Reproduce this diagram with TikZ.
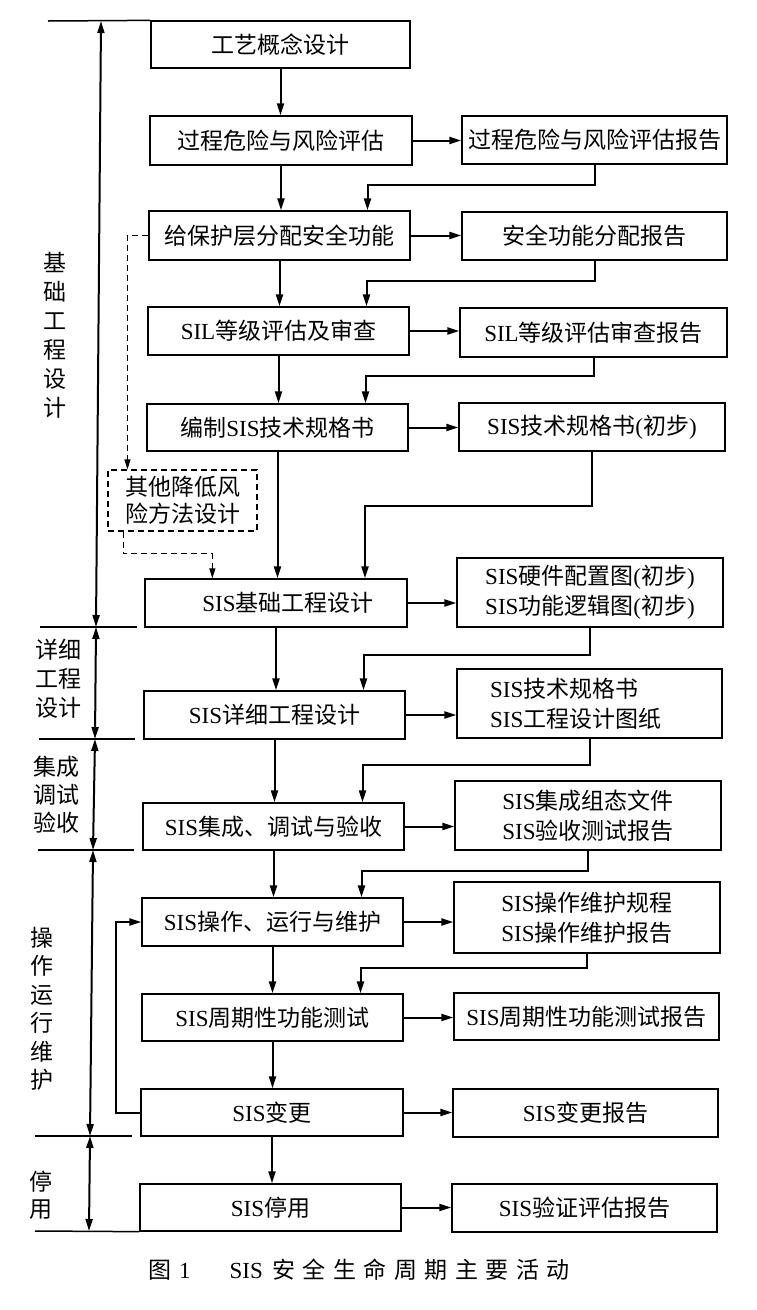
\documentclass[tikz,border=0pt]{standalone}
\usepackage{fontspec}
\setmainfont{Liberation Serif}
\newfontfamily\zhfont{Noto Sans CJK SC}
\newcommand\zt[1]{{\zhfont #1}}
\usetikzlibrary{arrows.meta}
% a box given by its left, top, right and bottom edges
\newcommand\placebox[6]{\node[box, minimum width={#4-#2}, minimum height={#5-#3}] (#1) at ({(#2+#4)/2},{(#3+#5)/2}) {#6};}
\newcommand\capgap{\hspace{7.5pt}}
\begin{document}
\begin{tikzpicture}[x=1pt,y=-1pt,
  box/.style={draw, line width=1.3pt, inner sep=0pt, align=center, font=\fontsize{23}{30}\selectfont},
  flow/.style={line width=2pt, -{Triangle[length=12pt,width=7pt]}},
  span/.style={line width=2pt, {Triangle[length=12pt,width=7pt]}-{Triangle[length=12pt,width=7pt]}},
  rule/.style={line width=1.5pt},
  dsh/.style={line width=1.1pt, dash pattern=on 6pt off 4pt, -{Triangle[length=10pt,width=6pt]}},
  phase/.style={align=center, inner sep=0pt},
]
\fill[white] (0,0) rectangle (756,1310);
\useasboundingbox (0,0) rectangle (756,1310);

% main activities
\placebox{b1}{151}{21}{410}{68}{\zt{工艺概念设计}}
\placebox{b2}{150}{116}{412}{165}{\zt{过程危险与风险评估}}
\placebox{b3}{149}{211}{410}{260}{\zt{给保护层分配安全功能}}
\placebox{b4}{148}{307}{409}{355}{SIL\zt{等级评估及审查}}
\placebox{b5}{147}{404}{408}{451}{\zt{编制}SIS\zt{技术规格书}}
\placebox{b6}{145}{579}{407}{627}{\hspace*{24pt}SIS\zt{基础工程设计}}
\placebox{b7}{144}{691}{405}{739}{SIS\zt{详细工程设计}}
\placebox{b8}{143}{803}{404}{850}{SIS\zt{集成、调试与验收}}
\placebox{b9}{142}{898}{403}{946}{SIS\zt{操作、运行与维护}}
\placebox{b10}{142}{994}{403}{1041}{SIS\zt{周期性功能测试}}
\placebox{b11}{141}{1089}{403}{1136}{SIS\zt{变更}}
\placebox{b12}{140}{1184}{401}{1231}{SIS\zt{停用}}

% resulting documents
\placebox{r2}{462}{116}{727}{164}{\zt{过程危险与风险评估报告}}
\placebox{r3}{462}{212}{727}{260}{\zt{安全功能分配报告}}
\placebox{r4}{460}{308}{727}{357}{SIL\zt{等级评估审查报告}}
\placebox{r5}{459}{403}{725}{451}{SIS\zt{技术规格书}(\zt{初步})}
\placebox{r6}{457}{558}{723}{627}{SIS\zt{硬件配置图}(\zt{初步})\\SIS\zt{功能逻辑图}(\zt{初步})}
\placebox{r7}{457}{669}{722}{738}{}
\node[anchor=west, align=left, inner sep=0pt, font=\fontsize{23}{30}\selectfont] (r7t) at (490,703.5) {SIS\zt{技术规格书}\\SIS\zt{工程设计图纸}};
\placebox{r8}{455}{781}{721}{850}{SIS\zt{集成组态文件}\\SIS\zt{验收测试报告}}
\placebox{r9}{454}{882}{720}{953}{SIS\zt{操作维护规程}\\SIS\zt{操作维护报告}}
\placebox{r10}{454}{993}{719}{1040}{SIS\zt{周期性功能测试报告}}
\placebox{r11}{453}{1089}{718}{1137}{SIS\zt{变更报告}}
\placebox{r12}{452}{1184}{717}{1232}{SIS\zt{验证评估报告}}

% other risk reduction measures
\node[box, dashed, dash pattern=on 6pt off 4pt, line width=1.1pt, minimum width=149, minimum height=61, align=left,
      font=\fontsize{23}{27}\selectfont] (dbox) at (182.5,500.5) {\zt{其他降低风}\\\zt{险方法设计}};

% main sequence
\foreach \a/\b in {b1/b2,b2/b3,b3/b4,b4/b5,b5/b6,b6/b7,b7/b8,b8/b9,b9/b10,b10/b11,b11/b12}
  \draw[flow] (\a.south) -- (\a.south |- \b.north);
% activity -> document
\foreach \n in {2,...,12}
  \draw[flow] (b\n.east) -- (b\n.east -| r\n.west);
% document -> next activity
\draw[flow] (r2.south) -- ++(0,20) -| ([xshift=88pt]b3.north);
\draw[flow] (r3.south) -- ++(0,20) -| ([xshift=88pt]b4.north);
\draw[flow] (r4.south) -- ++(0,18) -| ([xshift=88pt]b5.north);
\draw[flow] (r5.south) -- ++(0,54) -| ([xshift=89pt]b6.north);
\draw[flow] (r6.south) -- ++(0,27) -| ([xshift=89pt]b7.north);
\draw[flow] (r7.south) -- ++(0,26) -| ([xshift=89pt]b8.north);
\draw[flow] (r8.south) -- ++(0,20) -| ([xshift=89pt]b9.north);
\draw[flow] (r9.south) -- ++(0,14) -| ([xshift=88pt]b10.north);
% change loops back to operation
\draw[flow] (b11.west) -- ++(-24,0) |- (b9.west);
% dashed branch
\draw[dsh] (b3.west) -| ([xshift=20pt]dbox.north west);
\draw[dsh] ([xshift=16pt]dbox.south west) -- ++(0,22) -| ([xshift=68pt]b6.north west);

% phase boundaries
\coordinate (t0) at (48,21);
\coordinate (d1) at (40,627);  \coordinate (d1e) at (137,627);
\coordinate (d2) at (39,739);  \coordinate (d2e) at (135,739);
\coordinate (d3) at (38,850);  \coordinate (d3e) at (134,850);
\coordinate (d4) at (35,1136); \coordinate (d4e) at (132,1136);
\coordinate (t5) at (35,1231);
\draw[rule] (t0) -- (b1.north west);
\draw[rule] (d1) -- (d1e);
\draw[rule] (d2) -- (d2e);
\draw[rule] (d3) -- (d3e);
\draw[rule] (d4) -- (d4e);
\draw[rule] (t5) -- (b12.south west);
% phase spans
\coordinate (p0) at (101,21);
\coordinate (p1) at (96,627);
\coordinate (p2) at (95,739);
\coordinate (p3) at (93,850);
\coordinate (p4) at (90,1136);
\coordinate (p5) at (89,1231);
\draw[span] (p0) -- (p1);
\draw[span] (p1) -- (p2);
\draw[span] (p2) -- (p3);
\draw[span] (p3) -- (p4);
\draw[span] (p4) -- (p5);
% phase names
\node[phase, font=\zhfont\fontsize{23}{29}\selectfont] (ph1) at (55,335.5) {基\\础\\工\\程\\设\\计};
\node[phase, font=\zhfont\fontsize{23}{29}\selectfont] (ph2) at (58,679) {详细\\工程\\设计};
\node[phase, font=\zhfont\fontsize{23}{28}\selectfont] (ph3) at (57,795) {集成\\调试\\验收};
\node[phase, font=\zhfont\fontsize{23}{28.5}\selectfont] (ph4) at (42,1009) {操\\作\\运\\行\\维\\护};
\node[phase, font=\zhfont\fontsize{23}{26.5}\selectfont] (ph5) at (41,1195) {停\\用};

% caption
\node[anchor=west, inner sep=0pt, font=\fontsize{23}{28}\selectfont] (cap) at (148.5,1270)
  {\zt{图}\capgap 1\hspace{39pt}SIS\hspace{9.5pt}\zt{安}\capgap\zt{全}\capgap\zt{生}\capgap\zt{命}\capgap\zt{周}\capgap\zt{期}\capgap\zt{主}\capgap\zt{要}\capgap\zt{活}\capgap\zt{动}};
\end{tikzpicture}
\end{document}
